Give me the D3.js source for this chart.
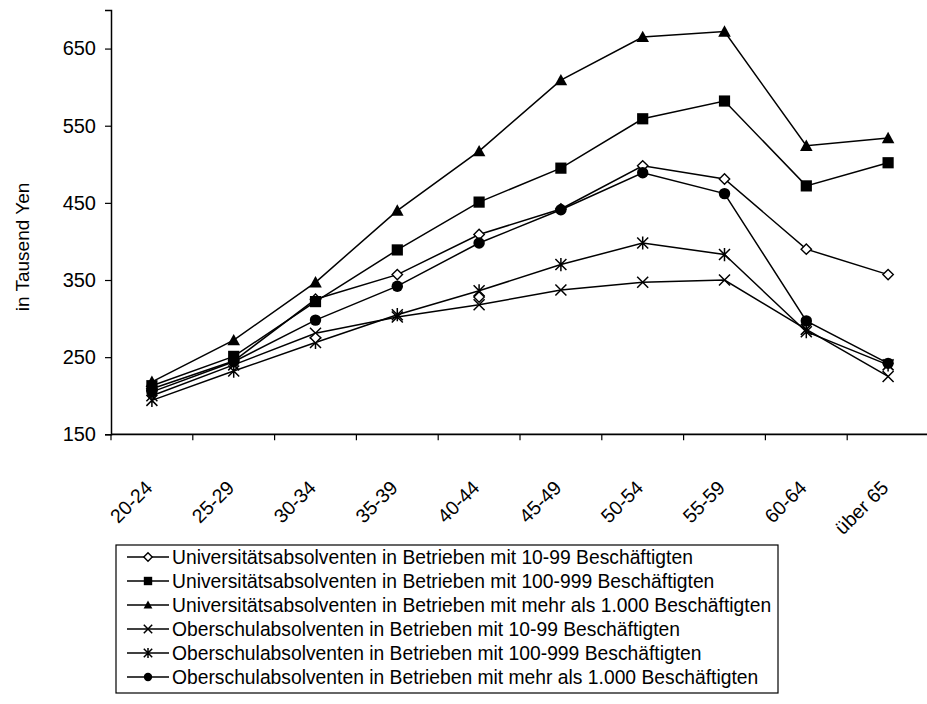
<!DOCTYPE html>
<html>
<head>
<meta charset="utf-8">
<script src="https://cdn.jsdelivr.net/npm/d3@7"></script>
<style>
  html, body { margin: 0; padding: 0; background: #fff; }
  svg { display: block; }
  text { font-family: "Liberation Sans", Arial, sans-serif; fill: #000; }
</style>
</head>
<body>
<svg id="chart" width="927" height="704"></svg>
<script>
// Altersgruppen (x-Achse)
const ageGroups = ["20-24", "25-29", "30-34", "35-39", "40-44", "45-49", "50-54", "55-59", "60-64", "über 65"];

// Monatseinkommen in Tausend Yen je Altersgruppe
const uniKlein   = [209, 245, 325, 357, 409, 442, 498, 481, 390, 357];
const uniMittel  = [213, 251, 322, 389, 451, 495, 559, 582, 472, 502];
const uniGross   = [218, 272, 347, 440, 517, 609, 665, 672, 524, 534];
const oberKlein  = [200, 240, 281, 302, 318, 337, 347, 350, 286, 225];
const oberMittel = [194, 232, 269, 305, 336, 370, 398, 383, 283, 240];
const oberGross  = [205, 244, 298, 342, 398, 441, 489, 462, 297, 242];

// zusätzliche Rautenmarken auf den Oberschul-Linien
const extraDiamondAges   = ["30-34", "40-44"];
const extraDiamondValues = [275, 328];

const seriesNames = [
  "Universitätsabsolventen in Betrieben mit 10-99 Beschäftigten",
  "Universitätsabsolventen in Betrieben mit 100-999 Beschäftigten",
  "Universitätsabsolventen in Betrieben mit mehr als 1.000 Beschäftigten",
  "Oberschulabsolventen in Betrieben mit 10-99 Beschäftigten",
  "Oberschulabsolventen in Betrieben mit 100-999 Beschäftigten",
  "Oberschulabsolventen in Betrieben mit mehr als 1.000 Beschäftigten"
];
const seriesMarkers = ["diamond", "square", "triangle", "x", "asterisk", "circle"];

const yTicks = [150, 250, 350, 450, 550, 650];
const yDomain = [150, 700];
const yTitle = "in Tausend Yen";

const series = [uniKlein, uniMittel, uniGross, oberKlein, oberMittel, oberGross].map((values, i) => ({
  name: seriesNames[i],
  marker: seriesMarkers[i],
  points: values.map((v, j) => ({ age: ageGroups[j], value: v }))
}));

const svg = d3.select("#chart");

const x = d3.scaleBand().domain(ageGroups).range([111, 929]).paddingInner(0).paddingOuter(0);
const y = d3.scaleLinear().domain(yDomain).range([434.3, 10]);

// Marker-Pfade (s = halbe Breite)
function markerPath(type, s) {
  switch (type) {
    case "diamond":
      return `M0,${-s}L${s},0L0,${s}L${-s},0Z`;
    case "square":
      return `M${-s},${-s}H${s}V${s}H${-s}Z`;
    case "triangle":
      return `M0,${-s * 1.05}L${s * 1.05},${s * 0.85}L${-s * 1.05},${s * 0.85}Z`;
    case "x":
      return `M${-s},${-s}L${s},${s}M${-s},${s}L${s},${-s}`;
    case "asterisk":
      return `M${-s},${-s}L${s},${s}M${-s},${s}L${s},${-s}M0,${-s * 1.2}V${s * 1.2}`;
    case "circle":
      return d3.symbol(d3.symbolCircle, Math.PI * s * s)();
  }
}
function drawMarker(g, type, s) {
  const p = g.append("path").attr("d", markerPath(type, s));
  if (type === "diamond") p.attr("fill", "#fff").attr("stroke", "#000").attr("stroke-width", 1.4);
  else if (type === "x" || type === "asterisk") p.attr("fill", "none").attr("stroke", "#000").attr("stroke-width", 1.5);
  else p.attr("fill", "#000").attr("stroke", "none");
  return p;
}
const plotSize = { diamond: 5.2, square: 5.6, triangle: 6, x: 5.5, asterisk: 5.5, circle: 5.7 };

// Achsen
const yAxis = d3.axisLeft(y).tickValues(yTicks).tickSize(6).tickPadding(9).tickFormat(d3.format("d"));
const gy = svg.append("g").attr("transform", "translate(111,0)").call(yAxis);
gy.select(".domain").attr("stroke", "#000").attr("stroke-width", 1.5);
gy.selectAll(".tick line").attr("stroke", "#000").attr("stroke-width", 1.2);
gy.selectAll(".tick text").attr("font-size", 20).attr("font-family", "Liberation Sans, Arial, sans-serif");

const gx = svg.append("g").attr("transform", `translate(0,${y(150)})`);
gx.append("line").attr("x1", 111).attr("x2", 929).attr("y1", 0).attr("y2", 0)
  .attr("stroke", "#000").attr("stroke-width", 1.7);
gx.selectAll("line.tick").data(ageGroups).join("line").attr("class", "tick")
  .attr("x1", d => x(d)).attr("x2", d => x(d)).attr("y1", 0).attr("y2", 6)
  .attr("stroke", "#000").attr("stroke-width", 1.2);
gx.selectAll("text").data(ageGroups).join("text")
  .attr("transform", d => `translate(${x(d) + x.bandwidth() / 2 - 8},${45}) rotate(-45)`)
  .attr("text-anchor", "end").attr("dy", "0.7em")
  .attr("font-size", 19.5)
  .text(d => d);

svg.append("text")
  .attr("transform", "translate(22,247) rotate(-90)")
  .attr("text-anchor", "middle").attr("dy", "0.35em").attr("font-size", 19)
  .text(yTitle);

// Linien und Marker
const line = d3.line().x(d => x(d.age) + x.bandwidth() / 2).y(d => y(d.value));
const plot = svg.append("g");
series.forEach(s => {
  plot.append("path").datum(s.points).attr("d", line)
    .attr("fill", "none").attr("stroke", "#000").attr("stroke-width", 1.5);
});
series.forEach(s => {
  s.points.forEach(p => {
    const g = plot.append("g").attr("transform", `translate(${x(p.age) + x.bandwidth() / 2},${y(p.value)})`);
    drawMarker(g, s.marker, plotSize[s.marker]);
  });
});
extraDiamondAges.forEach((a, i) => {
  const g = plot.append("g").attr("transform", `translate(${x(a) + x.bandwidth() / 2},${y(extraDiamondValues[i])})`);
  drawMarker(g, "diamond", plotSize.diamond);
});

// Legende
const legend = svg.append("g").attr("transform", "translate(116,545)");
legend.append("rect").attr("x", 0).attr("y", 0).attr("width", 662).attr("height", 148)
  .attr("fill", "#fff").attr("stroke", "#000").attr("stroke-width", 1.2);
series.forEach((s, i) => {
  const row = legend.append("g").attr("transform", `translate(0,${12 + i * 24})`);
  row.append("line").attr("x1", 11).attr("x2", 53).attr("y1", 0).attr("y2", 0)
    .attr("stroke", "#000").attr("stroke-width", 1.4);
  const m = row.append("g").attr("transform", "translate(32,0)");
  drawMarker(m, s.marker, 4.2);
  row.append("text").attr("x", 56).attr("y", 0).attr("dy", "0.36em")
    .attr("font-size", 19.3).text(s.name);
});
</script>
</body>
</html>
